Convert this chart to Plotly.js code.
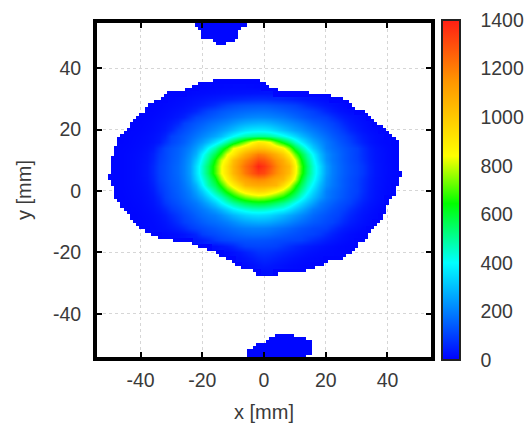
<!DOCTYPE html>
<html><head><meta charset="utf-8">
<script src="https://cdn.plot.ly/plotly-3.0.1.min.js"></script>
<style>html,body{margin:0;padding:0;background:#fff}#c{width:530px;height:423px}</style>
</head><body><div id="c"></div>
<script>
// Dose map values, 2 mm cells
const gridPositions=[];for(let v=-54;v<=54;v+=2)gridPositions.push(v);
const rowY=[36,34,32,30,28,26,24,22,20,18,16,14,12,10,8,6,4,2,0,-2,-4,-6,-8,-10,-12,-14,-16,-18,-20,-22,-24,-26,-28];
const rowFirstX=[-18,-22,-30,-32,-36,-38,-40,-42,-44,-44,-46,-48,-48,-48,-48,-48,-50,-48,-48,-46,-46,-44,-42,-42,-40,-34,-32,-20,-14,-12,-8,-4,-2];
const rowValues=[
[8,9,10,10,11,11,11,10,9],
[8,10,11,12,13,14,15,15,15,14,12,10],
[8,10,12,13,15,17,19,21,23,25,26,27,28,29,30,30,29,27,25,22,20,17,14,12,10,8],
[9,12,15,18,22,26,30,35,40,45,50,55,60,64,68,70,70,67,62,56,50,43,36,30,25,20,16,12,9],
[8,10,13,16,20,25,31,38,47,58,72,90,105,115,122,127,130,132,132,128,122,115,108,100,85,68,55,43,33,25,19,13,9],
[8,10,13,17,22,28,35,45,60,85,105,120,135,145,152,160,165,170,172,172,168,160,150,140,130,120,110,98,78,58,42,30,22,15,10],
[8,10,13,17,22,28,38,52,80,108,120,133,148,160,172,185,195,205,212,215,212,208,200,190,175,160,145,130,118,108,98,75,55,40,30,22,15,10],
[8,10,13,17,23,30,42,62,100,118,135,150,168,185,200,215,235,255,270,280,285,285,275,260,240,225,208,190,170,150,135,120,105,85,60,42,30,22,15,10],
[8,10,12,15,20,27,38,60,100,120,140,160,180,200,222,245,270,300,330,355,370,375,372,360,335,305,280,255,235,210,190,165,145,125,108,85,58,40,28,20,14,10],
[10,12,15,19,25,35,55,100,120,140,160,185,210,235,265,300,350,400,440,475,495,505,505,490,460,420,380,340,295,260,225,195,170,145,125,108,85,58,40,28,20,15,10],
[8,10,13,16,20,27,40,75,108,128,150,180,215,250,295,360,420,495,580,660,740,840,900,880,830,720,620,540,450,380,320,270,225,190,165,140,120,100,70,48,32,22,16,12,9],
[8,10,12,15,19,25,38,75,110,130,150,175,205,250,310,400,480,580,680,830,880,940,990,1020,1010,970,920,860,740,590,490,400,320,255,200,175,155,135,118,100,70,45,30,22,15,10],
[9,11,14,17,22,30,50,88,112,135,155,185,225,280,385,470,570,680,830,900,1000,1080,1150,1200,1180,1130,1070,990,880,720,590,480,390,290,225,190,165,140,120,100,72,48,32,24,16,11],
[9,11,14,18,24,32,55,95,115,138,160,195,240,320,420,510,650,800,890,1030,1110,1180,1240,1300,1280,1220,1150,1080,980,830,650,520,420,310,230,190,165,140,120,102,75,50,33,24,16,11],
[9,11,14,18,25,35,62,100,120,142,165,200,250,350,450,550,690,830,940,1060,1150,1230,1300,1390,1350,1280,1190,1110,1050,870,690,550,440,340,250,200,170,145,125,108,85,55,35,25,17,11],
[9,11,14,18,25,35,62,100,120,142,165,200,250,350,450,550,690,830,930,1050,1130,1210,1280,1330,1310,1240,1170,1100,1030,860,680,540,440,340,250,200,170,145,125,108,85,55,35,25,17,12,8],
[8,9,11,14,18,24,33,58,97,118,140,160,195,240,330,420,510,620,770,880,980,1070,1120,1160,1180,1170,1130,1090,1055,950,810,620,500,420,320,235,195,165,140,120,102,75,50,33,24,16,11,8],
[9,11,14,17,22,30,50,88,112,135,155,185,225,285,385,480,560,670,790,880,960,1050,1080,1090,1085,1070,1050,940,830,680,560,460,385,290,225,190,165,140,120,100,72,48,32,23,15,10],
[8,10,13,16,20,27,42,78,105,128,150,175,205,255,320,400,490,570,670,750,830,890,930,960,950,910,860,790,700,600,500,415,340,265,200,175,155,135,115,100,70,45,30,21,14,10],
[9,12,15,18,24,35,62,100,122,142,165,190,225,270,330,405,465,540,620,680,730,765,780,770,740,700,650,580,510,430,360,300,240,195,170,150,130,112,90,62,42,28,20,12],
[8,10,13,16,22,30,50,85,108,128,150,170,190,225,265,320,385,440,490,530,565,590,600,595,575,545,505,460,400,345,295,250,195,170,150,130,115,100,70,48,33,24,16,10],
[8,11,14,18,25,38,60,90,110,130,150,170,190,215,250,290,335,380,410,435,455,460,455,440,420,400,360,315,275,235,195,170,150,130,115,100,75,52,36,26,18,11],
[9,12,15,20,28,42,65,90,112,130,150,170,185,200,225,255,285,310,330,345,350,345,335,315,290,265,240,215,190,165,145,130,115,105,80,58,40,28,20,14,9],
[8,10,13,17,23,32,48,72,98,112,128,145,160,172,185,200,220,240,255,265,270,268,260,245,228,210,190,172,155,140,128,115,105,85,62,44,32,23,16,10],
[8,11,15,19,25,34,48,66,90,105,118,130,142,155,165,178,188,195,200,200,198,192,182,170,158,145,132,122,112,105,98,75,55,40,30,22,15,10],
[8,12,16,22,30,42,60,95,108,118,130,140,150,158,165,170,170,168,162,152,142,132,124,116,108,102,88,68,50,36,26,18,12,9],
[8,10,14,19,26,35,46,62,88,103,110,118,124,128,130,130,128,124,118,113,108,104,100,85,70,56,43,33,25,19,14,11,8],
[10,16,24,34,46,62,85,102,106,108,106,104,100,85,72,60,50,42,35,28,22,18,14,12,10,8],
[10,16,25,36,50,65,78,80,76,68,58,50,42,35,28,23,19,16,14,12,10,8],
[9,14,22,32,43,55,60,56,48,40,33,27,22,18,15,13,11,10,8],
[10,16,24,33,40,36,30,25,20,17,14,12,11,10,8],
[10,15,22,25,22,18,14,11,9],
[10,14,13,10]
];
const edgeY=[55,54,53,52,51,50,49,48,36,35,34,33,32,31,30,29,28,27,26,25,24,23,22,21,20,19,18,17,16,15,14,13,12,11,10,9,8,7,6,5,4,3,2,1,0,-1,-2,-3,-4,-5,-6,-7,-8,-9,-10,-11,-12,-13,-14,-15,-16,-17,-18,-19,-20,-21,-22,-23,-24,-25,-26,-27,-47,-48,-49,-50,-51,-52,-53,-54,-55];
const edgeLeft=[-22,-22,-21,-20,-20,-20,-16,-15,-16,-21,-23,-25,-31,-32,-33,-35,-37,-38,-38,-40,-41,-42,-43,-43,-44,-45,-46,-47,-47,-47,-48,-48,-48,-49,-49,-49,-49,-49,-49,-50,-50,-49,-49,-48,-48,-48,-48,-47,-46,-46,-45,-44,-43,-43,-42,-41,-40,-38,-36,-34,-29,-23,-21,-18,-15,-14,-12,-10,-9,-7,-3,-2,4,2,1,-2,-3,-5,-5,-5,-5];
const edgeRight=[-6,-6,-8,-9,-9,-9,-10,-13,-2,0,1,4,14,21,25,27,28,29,32,33,34,35,36,38,39,40,41,42,43,43,43,43,43,43,43,43,43,43,44,44,43,43,43,42,42,42,41,40,40,39,39,39,38,38,37,36,35,34,33,33,32,30,30,29,28,26,25,20,19,16,13,4,9,13,15,15,15,15,15,13,13];
const edgeValue=10;
const axisTicks=[-40,-20,0,20,40];
const colorTicks=[0,200,400,600,800,1000,1200,1400];

const fine=[];for(let v=-55;v<=55;v++)fine.push(v);
const zEdge=fine.map(y=>{const i=edgeY.indexOf(y);return fine.map(x=>(i>=0&&x>=edgeLeft[i]&&x<=edgeRight[i])?edgeValue:null);});
const inside=(x,y)=>{const i=edgeY.indexOf(y);return i>=0&&x>=edgeLeft[i]&&x<=edgeRight[i];};
const z=gridPositions.map(y=>{
  const row=gridPositions.map(()=>null);
  const i=rowY.indexOf(y);
  if(i>=0) rowValues[i].forEach((v,k)=>{
    const x=rowFirstX[i]+2*k;
    if(inside(x-1,y-1)&&inside(x+1,y-1)&&inside(x-1,y+1)&&inside(x+1,y+1)) row[gridPositions.indexOf(x)]=v;
  });
  return row;
});

const L=97,R=431,T=23,B=357,W=530,H=423,PW=R-L,PH=B-T;
const font={family:'"Liberation Sans",Arial,sans-serif',size:19.5,color:'#3a3a3a'};
const titleFont={family:font.family,size:20,color:'#3a3a3a'};
const barX0=(442-L)/PW,barX1=(460-L)/PW;
const barY0=(B-360)/PH,barLen=340;
const tickShapes=[];
colorTicks.filter(v=>v>0&&v<1400).forEach(v=>{
  const y=barY0+(v/1400)*barLen/PH;
  [[barX0,barX0+5/PW],[barX1-5/PW,barX1]].forEach(p=>tickShapes.push({type:'line',xref:'paper',yref:'paper',x0:p[0],x1:p[1],y0:y,y1:y,line:{color:'#222',width:2}}));
});
const scale=[[0,'rgb(0,0,255)'],[0.286,'rgb(0,255,255)'],[0.46,'rgb(0,255,0)'],[0.6,'rgb(255,255,0)'],[0.82,'rgb(255,150,0)'],[1,'rgb(255,30,20)']];
const axis={showgrid:true,gridcolor:'#d6d6d6',griddash:'dot',gridwidth:1,zeroline:false,showline:true,linecolor:'#000',linewidth:4,mirror:'allticks',ticks:'inside',ticklen:5,tickwidth:2,tickcolor:'#000',tickmode:'array',tickvals:axisTicks,ticktext:axisTicks.map(String),tickfont:font};
Plotly.newPlot('c',[
 {type:'heatmap',x:fine,y:fine,z:zEdge,zmin:0,zmax:1400,zsmooth:false,showscale:false,colorscale:scale,hoverongaps:false},
 {type:'heatmap',x:gridPositions,y:gridPositions,z:z,zmin:0,zmax:1400,zsmooth:'best',hoverongaps:false,colorscale:scale,
 colorbar:{x:barX0,xanchor:'left',xpad:0,y:barY0,yanchor:'bottom',ypad:0,lenmode:'pixels',len:barLen,thicknessmode:'pixels',thickness:18,outlinecolor:'#222',outlinewidth:2,borderwidth:0,ticks:'outside',ticklen:16,tickcolor:'rgba(0,0,0,0)',tickmode:'array',tickvals:colorTicks,ticktext:colorTicks.map(String),tickfont:font}}],
 {width:W,height:H,margin:{l:L,r:W-R,t:T,b:H-B,pad:0,autoexpand:false},paper_bgcolor:'#fff',plot_bgcolor:'#fff',showlegend:false,font:font,shapes:tickShapes,
  xaxis:Object.assign({},axis,{ticklabelstandoff:3,range:[-54.1,54.1],title:{text:'x [mm]',font:titleFont,standoff:17}}),
  yaxis:Object.assign({},axis,{ticklabelstandoff:8,range:[-54.1,54.7],title:{text:'y [mm]',font:titleFont,standoff:17}})},
 {staticPlot:true,displayModeBar:false});
</script></body></html>
